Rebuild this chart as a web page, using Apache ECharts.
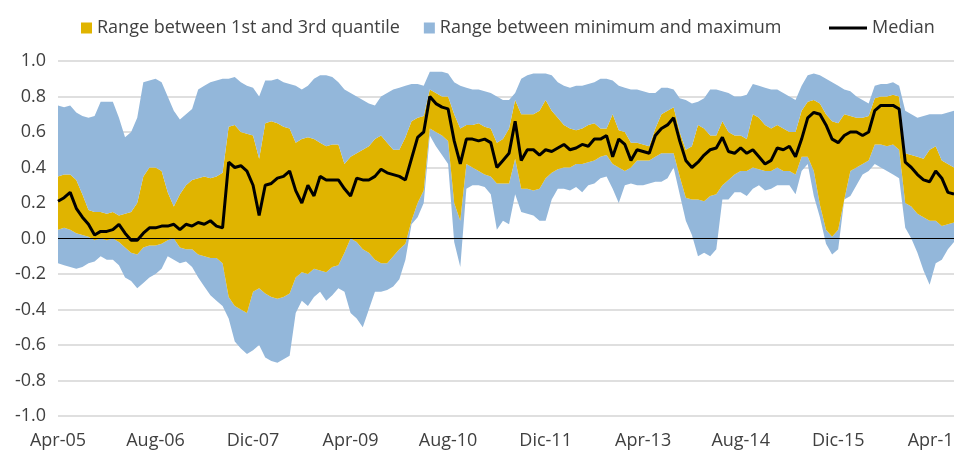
<!DOCTYPE html>
<html>
<head>
<meta charset="utf-8">
<script src="https://cdn.jsdelivr.net/npm/echarts@6/dist/echarts.min.js"></script>
<style>
  html, body { margin: 0; padding: 0; background: #fff; }
  #chart { width: 954px; height: 454px; }
</style>
</head>
<body>
<div id="chart"></div>
<script>
// month labels, Apr-05 .. Jul-17
const monthNames = ["Jan", "Feb", "Mar", "Apr", "May", "Jun", "Jul", "Aug", "Sep", "Oct", "Nov", "Dic"];
const categories = [];
for (let i = 0; i < 148; i++) {
  const m = (3 + i) % 12;
  const y = 5 + Math.floor((3 + i) / 12);
  categories.push(monthNames[m] + "-" + String(y).padStart(2, "0"));
}

const yTicks = [-1, -0.8, -0.6, -0.4, -0.2, 0, 0.2, 0.4, 0.6, 0.8, 1];

const minimum = [
  -.14,-.15,-.16,-.17,-.16,-.14,-.13,-.10,-.12,-.12,
  -.15,-.22,-.24,-.28,-.25,-.22,-.20,-.17,-.10,-.12,
  -.14,-.13,-.16,-.22,-.27,-.32,-.35,-.38,-.45,-.58,
  -.62,-.65,-.63,-.60,-.67,-.69,-.70,-.68,-.66,-.42,
  -.35,-.38,-.33,-.30,-.35,-.32,-.28,-.30,-.42,-.45,
  -.50,-.40,-.30,-.30,-.29,-.27,-.23,-.12,.08,.12,
  .20,.58,.52,.47,.42,-.02,-.16,.28,.30,.30,
  .29,.25,.05,.10,.08,.25,.15,.14,.13,.10,
  .10,.22,.28,.28,.27,.29,.26,.30,.31,
  .34,.35,.28,.20,.30,.31,.30,.30,.31,.32,.32,
  .34,.40,.25,.10,.02,-.10,-.08,-.10,-.06,.22,
  .22,.26,.26,.24,.28,.30,.27,.28,.30,
  .30,.30,.25,.38,.42,.24,.12,-.03,-.09,-.06,.22,
  .24,.30,.36,.38,.42,.40,.38,.36,.34,.06,
  .00,-.08,-.18,-.26,-.14,-.12,-.06,-.02
];

const quartile1 = [
  .05,.06,.05,.03,.02,.01,-.01,.00,-.01,.00,
  -.02,-.05,-.08,-.09,-.05,-.04,-.04,-.03,-.01,.00,
  -.05,-.06,-.06,-.09,-.10,-.11,-.11,-.14,-.33,-.38,
  -.40,-.42,-.30,-.28,-.31,-.33,-.34,-.33,-.31,-.22,
  -.19,-.20,-.17,-.18,-.19,-.16,-.15,-.08,.00,-.02,
  -.06,-.08,-.12,-.14,-.14,-.10,-.06,-.03,.10,.20,
  .27,.62,.60,.58,.55,.20,.10,.42,.40,.38,
  .36,.35,.31,.31,.31,.45,.28,.28,.27,.28,
  .34,.37,.39,.40,.40,.42,.42,.43,.44,
  .46,.47,.42,.40,.38,.40,.44,.44,.44,.46,.48,
  .48,.48,.35,.23,.22,.22,.21,.24,.25,.30,
  .33,.36,.38,.38,.40,.39,.38,.38,.40,
  .38,.38,.36,.46,.46,.38,.19,.05,.01,.05,.22,
  .38,.40,.42,.44,.53,.53,.52,.53,.50,.20,
  .18,.14,.12,.10,.10,.07,.08,.09
];

const median = [
  .21,.23,.26,.17,.12,.08,.02,.04,.04,.05,
  .08,.03,-.01,-.01,.03,.06,.06,.07,.07,.08,
  .05,.08,.07,.09,.08,.10,.07,.06,.43,.40,
  .41,.38,.30,.13,.30,.31,.34,.35,.38,.27,
  .20,.30,.24,.35,.33,.33,.33,.28,.24,.34,
  .33,.33,.35,.39,.37,.36,.35,.33,.45,.57,
  .60,.80,.76,.74,.73,.55,.42,.56,.56,.55,
  .56,.54,.40,.44,.48,.66,.44,.50,.50,.47,
  .50,.49,.51,.53,.50,.51,.53,.52,.56,
  .56,.58,.46,.56,.53,.44,.50,.49,.48,.58,.62,
  .64,.68,.55,.44,.40,.43,.47,.50,.51,.57,
  .49,.48,.51,.48,.50,.46,.42,.44,.51,
  .50,.52,.46,.56,.68,.71,.70,.64,.56,.54,.58,
  .60,.60,.58,.60,.72,.75,.75,.75,.73,.43,
  .40,.36,.33,.32,.38,.34,.26,.25
];

const quartile3 = [
  .35,.36,.36,.33,.25,.16,.15,.15,.14,.15,
  .13,.14,.15,.20,.35,.40,.40,.38,.26,.18,
  .25,.30,.33,.34,.35,.34,.35,.37,.63,.64,
  .60,.59,.58,.45,.65,.66,.65,.63,.62,.54,
  .56,.57,.56,.54,.52,.53,.53,.42,.46,.48,
  .50,.52,.56,.58,.54,.50,.50,.57,.66,.68,
  .69,.84,.82,.80,.80,.70,.62,.64,.64,.65,
  .63,.62,.54,.56,.62,.78,.70,.70,.70,.72,
  .78,.72,.68,.64,.62,.61,.62,.64,.65,
  .62,.62,.70,.61,.60,.54,.54,.53,.52,.62,.70,
  .72,.74,.60,.50,.52,.64,.62,.58,.58,.66,
  .60,.58,.58,.56,.70,.68,.64,.62,.64,
  .62,.60,.60,.72,.77,.78,.76,.70,.66,.65,.70,
  .69,.68,.68,.69,.79,.80,.80,.81,.80,.48,
  .47,.46,.45,.50,.52,.44,.42,.40
];

const maximum = [
  .75,.74,.75,.71,.69,.68,.69,.77,.77,.77,
  .68,.57,.60,.68,.88,.89,.90,.88,.80,.72,
  .67,.70,.73,.84,.86,.88,.89,.90,.90,.91,
  .88,.86,.85,.80,.89,.89,.90,.88,.87,.86,
  .84,.86,.90,.92,.92,.91,.88,.84,.82,.80,
  .78,.76,.75,.80,.82,.84,.85,.86,.87,.87,
  .86,.94,.94,.94,.93,.88,.86,.85,.84,.84,
  .83,.82,.80,.78,.78,.82,.90,.92,.93,.93,
  .93,.92,.88,.86,.85,.86,.86,.87,.88,
  .90,.90,.89,.86,.85,.84,.84,.83,.82,.82,.85,
  .85,.84,.79,.78,.76,.77,.79,.84,.84,.83,
  .82,.80,.80,.81,.87,.86,.85,.84,.84,
  .82,.80,.78,.86,.92,.93,.92,.90,.88,.86,.84,
  .83,.80,.78,.76,.86,.87,.87,.88,.86,.72,
  .70,.68,.69,.70,.70,.70,.71,.72
];

const blue = "#93B7DA";
const gold = "#E0B400";
const nameIQR = "Range between 1st and 3rd quantile";
const nameRange = "Range between minimum and maximum";

function diff(a, b) {
  return a.map((v, i) => +(v - b[i]).toFixed(3));
}

const chart = echarts.init(document.getElementById("chart"));
const bandSeries = {
  type: "line",
  stack: "band",
  stackStrategy: "all",
  symbol: "none",
  silent: true,
  lineStyle: { width: 0, opacity: 0 }
};
const labelFont = { fontSize: 18, color: "#404040", fontFamily: "Open Sans" };

chart.setOption({
  animation: false,
  textStyle: { fontFamily: "Open Sans" },
  grid: { left: 58, right: 0, top: 61, bottom: 38, outerBoundsMode: "none" },
  legend: [
    {
      left: 81, top: 19, padding: 0,
      itemWidth: 11, itemHeight: 11, itemGap: 24,
      textStyle: labelFont,
      data: [{ name: nameIQR, icon: "rect" }, { name: nameRange, icon: "rect" }]
    },
    {
      left: 829, top: 19, padding: 0,
      itemWidth: 38, itemHeight: 3,
      textStyle: labelFont,
      data: [{ name: "Median", icon: "rect" }]
    }
  ],
  xAxis: {
    type: "category",
    boundaryGap: false,
    data: categories,
    axisLine: { show: false },
    axisTick: { show: false },
    splitLine: { show: false },
    axisLabel: Object.assign({ interval: 15, margin: 16 }, labelFont)
  },
  yAxis: {
    type: "value",
    min: yTicks[0],
    max: yTicks[yTicks.length - 1],
    interval: 0.2,
    axisLine: { show: false },
    axisTick: { show: false },
    splitLine: { lineStyle: { color: "#D4D4D4", width: 1.5 } },
    axisLabel: Object.assign({ margin: 12, formatter: v => v.toFixed(1) }, labelFont)
  },
  series: [
    Object.assign({}, bandSeries, {
      name: "base",
      data: minimum,
      markLine: {
        silent: true, symbol: "none", label: { show: false },
        lineStyle: { color: "#000", width: 1, type: "solid" },
        data: [{ yAxis: 0 }]
      }
    }),
    Object.assign({}, bandSeries, {
      name: nameRange,
      data: diff(quartile1, minimum),
      itemStyle: { color: blue },
      areaStyle: { color: blue, opacity: 1 }
    }),
    Object.assign({}, bandSeries, {
      name: nameIQR,
      data: diff(quartile3, quartile1),
      itemStyle: { color: gold },
      areaStyle: { color: gold, opacity: 1 }
    }),
    Object.assign({}, bandSeries, {
      name: nameRange,
      data: diff(maximum, quartile3),
      itemStyle: { color: blue },
      areaStyle: { color: blue, opacity: 1 }
    }),
    {
      name: "Median",
      type: "line",
      data: median,
      symbol: "none",
      z: 5,
      itemStyle: { color: "#000" },
      lineStyle: { color: "#000", width: 3 }
    }
  ]
});
</script>
</body>
</html>
